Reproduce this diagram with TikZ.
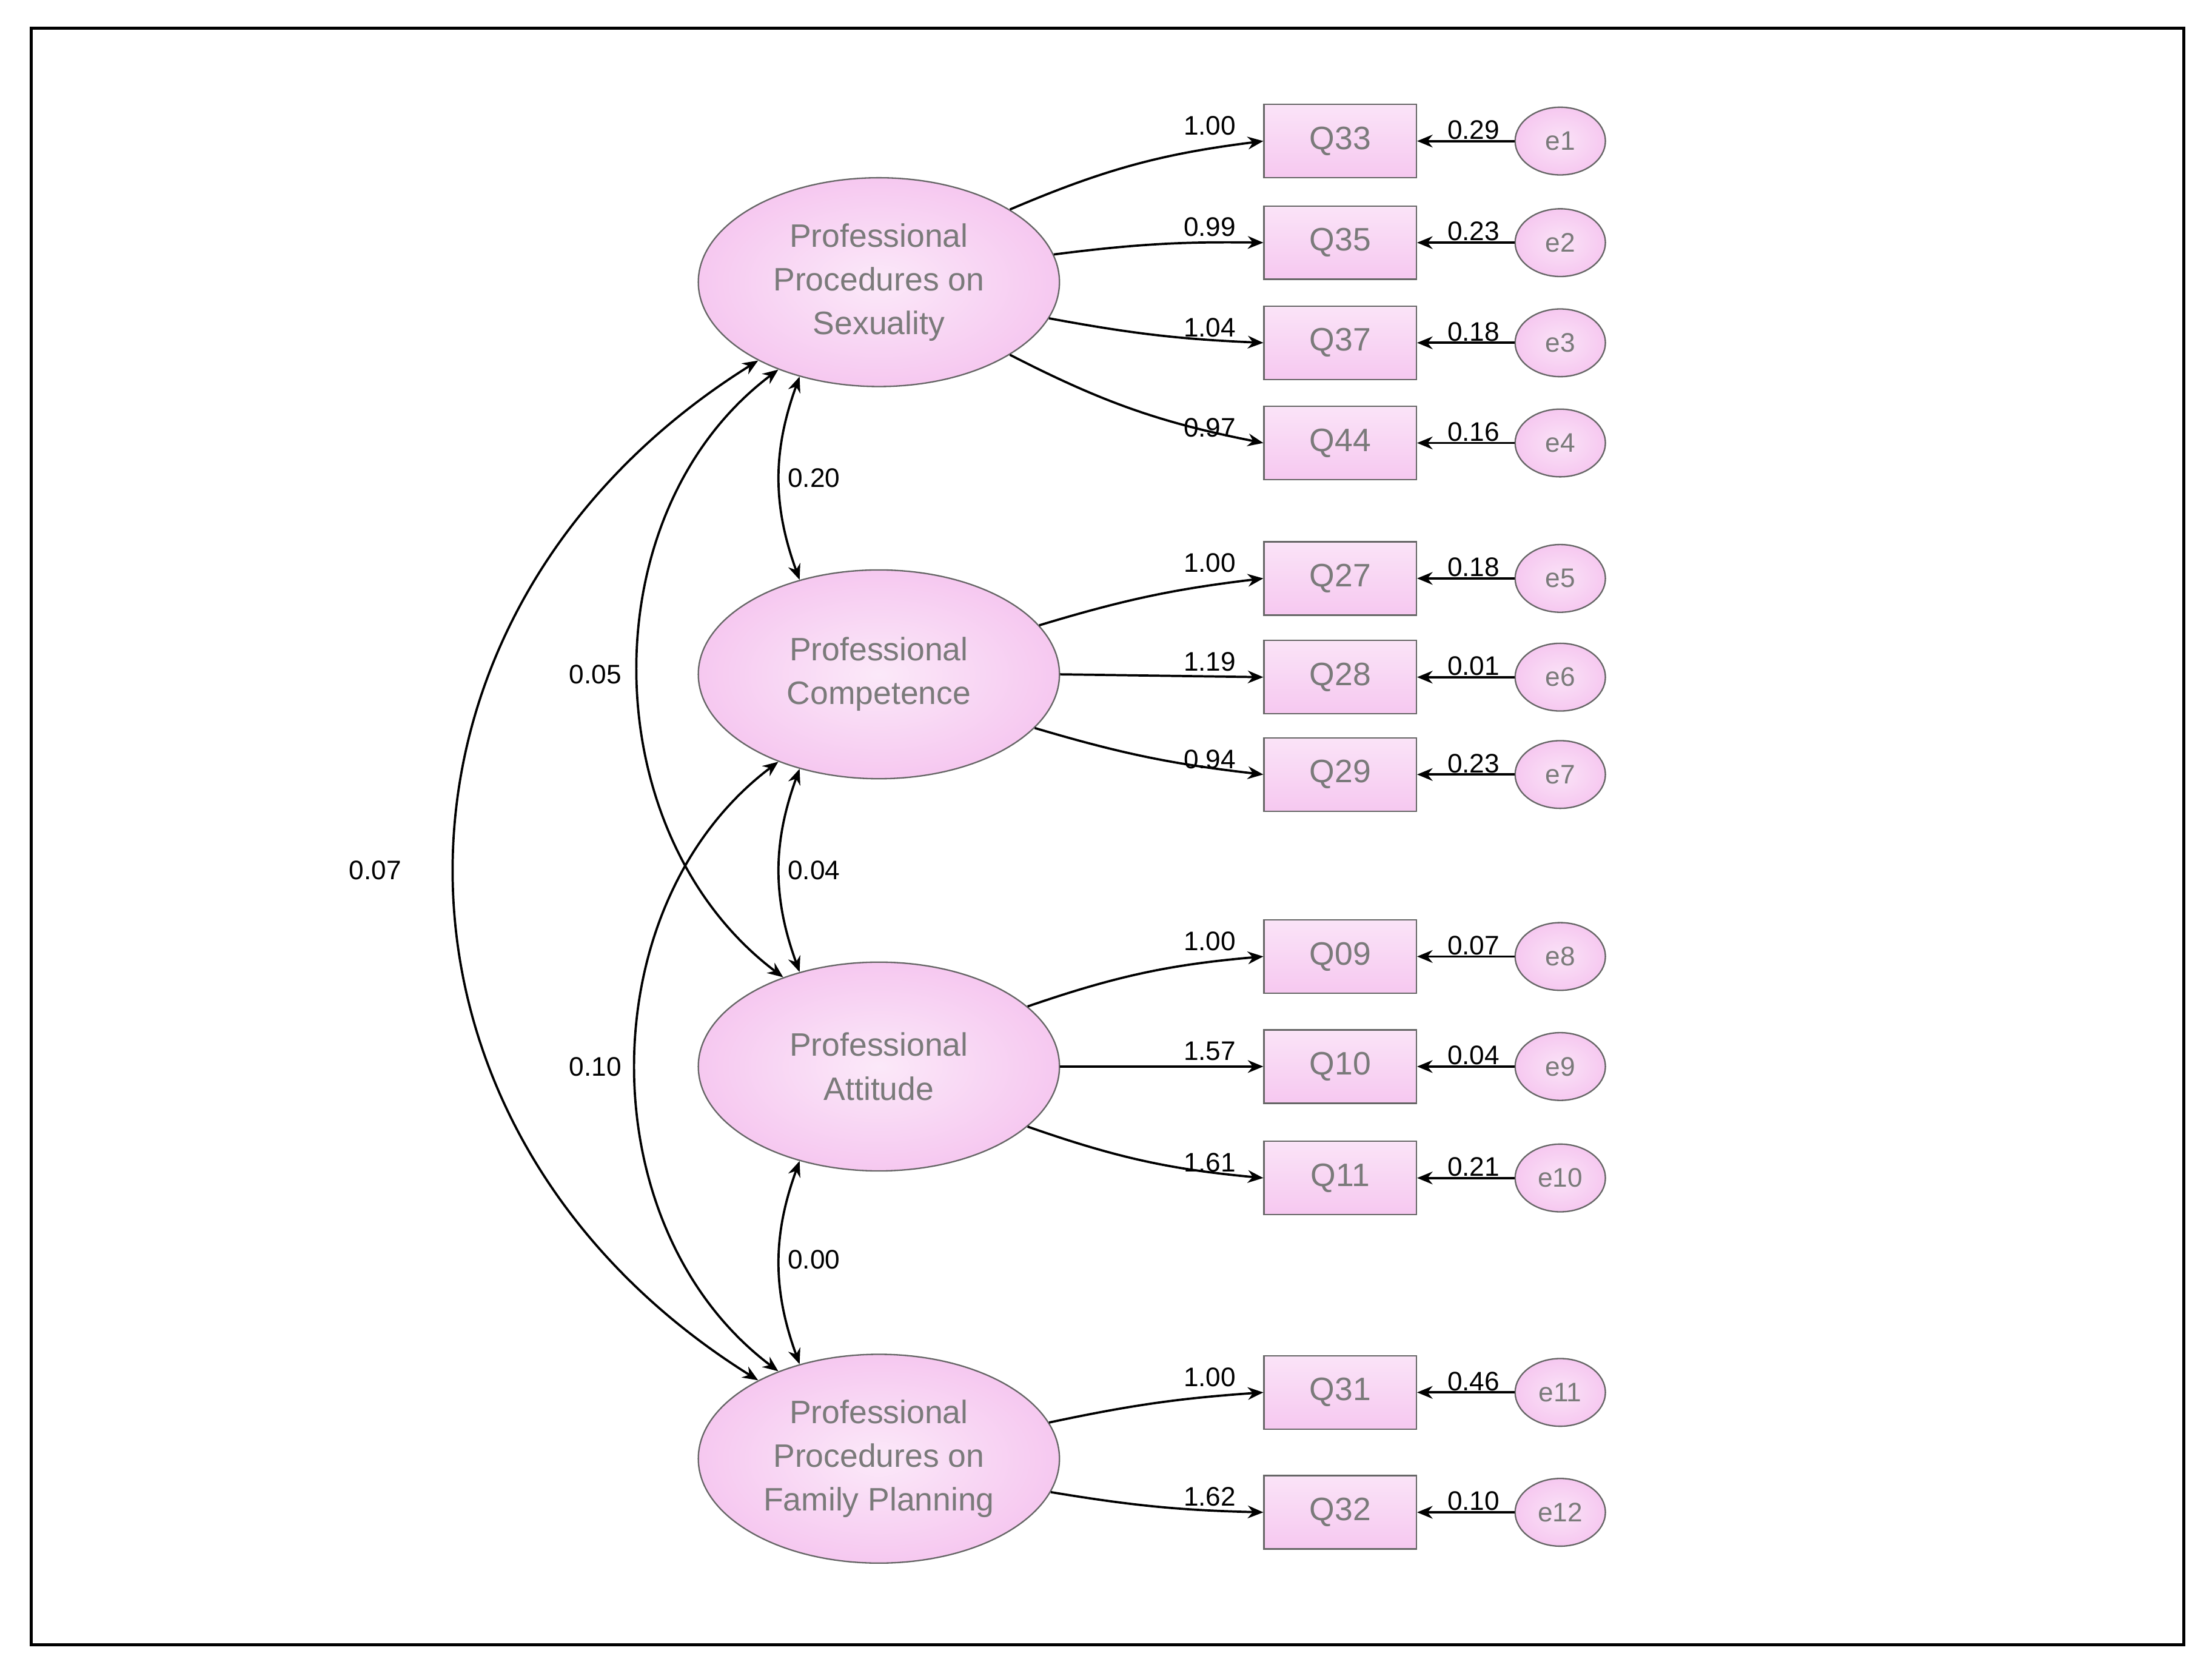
\documentclass[tikz,border=0pt]{standalone}
\usepackage{fontspec}
\setmainfont{Liberation Sans}
\usetikzlibrary{shapes.geometric,arrows.meta}
\definecolor{pk}{HTML}{F6C8F0}
\definecolor{tx}{HTML}{7A7A7A}
\begin{document}
\begin{tikzpicture}[x=1pt,y=1pt,
 lat/.style={ellipse,draw=black!60,line width=1pt,minimum width=256,minimum height=148,inner sep=0,inner color=white!60!pk,outer color=pk,text=tx,font=\fontsize{23}{31}\selectfont,align=center},
 obs/.style={rectangle,draw=black!60,line width=1pt,minimum width=108,minimum height=52,inner sep=0,top color=white!50!pk,bottom color=pk,text=tx,font=\fontsize{23}{28}\selectfont},
 err/.style={ellipse,draw=black!60,line width=1pt,minimum width=64,minimum height=48,inner sep=0,inner color=white!50!pk,outer color=pk,text=tx,font=\fontsize{19}{22}\selectfont},
 arr/.style={line width=1.6pt,-{Stealth[length=11pt,width=9pt]}},
 cov/.style={line width=1.6pt,{Stealth[length=11pt,width=9pt]}-{Stealth[length=11pt,width=9pt]}},
 lab/.style={font=\fontsize{19}{22}\selectfont,inner sep=1pt}]
\useasboundingbox (0,0) rectangle (1568,-1188);
\draw[line width=2pt] (22,-20) rectangle (1548,-1166);
\node[lat] (s1) at (623,-200) {Professional\\Procedures on\\Sexuality};
\node[lat] (s2) at (623,-478) {Professional\\Competence};
\node[lat] (s3) at (623,-756) {Professional\\Attitude};
\node[lat] (s4) at (623,-1034) {Professional\\Procedures on\\Family Planning};
\foreach \n/\q/\y/\e in {1/Q33/100/e1,2/Q35/172/e2,3/Q37/243/e3,4/Q44/314/e4,5/Q27/410/e5,6/Q28/480/e6,7/Q29/549/e7,8/Q09/678/e8,9/Q10/756/e9,10/Q11/835/e10,11/Q31/987/e11,12/Q32/1072/e12}{
 \node[obs] (q\n) at (950,-\y) {\q};
 \node[err] (e\n) at (1106,-\y) {\e};
 \draw[arr] (e\n) -- (q\n);
}
\foreach \n/\v in {1/0.29,2/0.23,3/0.18,4/0.16,5/0.18,6/0.01,7/0.23,8/0.07,9/0.04,10/0.21,11/0.46,12/0.10}
 \node[lab,anchor=south] at ([xshift=40pt]q\n.east) {\v};
% loadings
\draw[arr] (s1.29) to[bend left=8] coordinate[pos=0.8] (l1) (q1.west);
\draw[arr] (s1.9) to[bend left=4] (q2.west);
\draw[arr] (s1.-12) to[bend right=4] (q3.west);
\draw[arr] (s1.-29) to[bend right=8] (q4.west);
\draw[arr] (s2.17) to[bend left=5] (q5.west);
\draw[arr] (s2.0) -- (q6.west);
\draw[arr] (s2.-19) to[bend right=5] (q7.west);
\draw[arr] (s3.22) to[bend left=7] (q8.west);
\draw[arr] (s3.0) -- (q9.west);
\draw[arr] (s3.-22) to[bend right=7] (q10.west);
\draw[arr] (s4.12) to[bend left=4] (q11.west);
\draw[arr] (s4.-11) to[bend right=4] (q12.west);
\foreach \n/\v in {1/1.00,2/0.99,3/1.04,4/0.97,5/1.00,6/1.19,7/0.94,8/1.00,9/1.57,10/1.61,11/1.00,12/1.62}
 \node[lab,anchor=south] at ([xshift=-38pt,yshift=3pt]q\n.west) {\v};
% covariances
\draw[cov] (s1.-130) to[out=250,in=110] (s2.130);
\draw[cov] (s2.-130) to[out=250,in=110] (s3.130);
\draw[cov] (s3.-130) to[out=250,in=110] (s4.130);
\draw[cov] (s1.-139) to[out=217,in=143] (s3.137);
\draw[cov] (s2.-139) to[out=217,in=143] (s4.139);
\draw[cov] (s1.-147) to[out=212,in=148,looseness=1.2] (s4.147);
\node[lab] at (577,-339) {0.20};
\node[lab] at (577,-617) {0.04};
\node[lab] at (577,-893) {0.00};
\node[lab] at (422,-478) {0.05};
\node[lab] at (422,-756) {0.10};
\node[lab] at (266,-617) {0.07};
\end{tikzpicture}
\end{document}
